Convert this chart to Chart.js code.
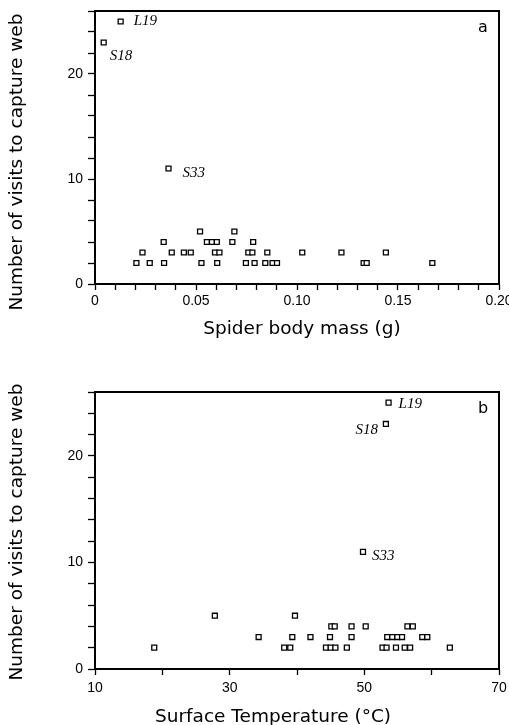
<!DOCTYPE html>
<html>
<head>
<meta charset="utf-8">
<script src="https://cdn.jsdelivr.net/npm/chart.js@4.4.1/dist/chart.umd.min.js"></script>
<style>
  body { margin: 0; background: #fff; }
  #boxA { position: absolute; left: 0; top: 0; width: 509px; height: 362px; }
  #boxB { position: absolute; left: 0; top: 362px; width: 509px; height: 363px; }
</style>
</head>
<body>
<div id="boxA"><canvas id="chartA"></canvas></div>
<div id="boxB"><canvas id="chartB"></canvas></div>
<script>
// Painel a - massa da aranha (g) x numero de visitas
const massaX = [0.0127, 0.0043, 0.0364,
    0.052, 0.069,
    0.034, 0.0554, 0.0579, 0.0603, 0.068, 0.0783,
    0.0235, 0.038, 0.044, 0.0474, 0.0594, 0.0616, 0.0759, 0.0779, 0.0853, 0.1026, 0.122, 0.144,
    0.0205, 0.0271, 0.0342, 0.0527, 0.0605, 0.0747, 0.079, 0.0843, 0.0879, 0.0901, 0.133, 0.1345, 0.167]
const massaVisitas = [25, 23, 11,
    5, 5,
    4, 4, 4, 4, 4, 4,
    3, 3, 3, 3, 3, 3, 3, 3, 3, 3, 3, 3,
    2, 2, 2, 2, 2, 2, 2, 2, 2, 2, 2, 2, 2]

// Painel b - temperatura da superficie (C) x numero de visitas
const tempX = [53.6, 53.2, 49.8,
    27.8, 39.7,
    45.1, 45.6, 48.1, 50.2, 56.4, 57.2,
    34.3, 39.3, 42.0, 44.9, 48.1, 53.4, 54.15, 54.9, 55.6, 58.6, 59.35,
    18.8, 38.1, 39.0, 44.3, 45.0, 45.7, 47.4, 52.7, 53.3, 54.7, 56.0, 56.8, 62.7]
const tempVisitas = [25, 23, 11,
    5, 5,
    4, 4, 4, 4, 4, 4,
    3, 3, 3, 3, 3, 3, 3, 3, 3, 3, 3,
    2, 2, 2, 2, 2, 2, 2, 2, 2, 2, 2, 2, 2]

// nomes das aranhas marcadas (indices 0, 1 e 2 das series)
const nomesAranhas = ['L19', 'S18', 'S33']

const tickLabelsMassa = [0, 0.05, 0.10, 0.15, 0.20]
const tickLabelsTemp = [10, 30, 50, 70]
const tickLabelsVisitas = [0, 10, 20]

function pontos(xs, ys) {
    return xs.map((x, i) => ({ x: x, y: ys[i] }))
}

// moldura, titulos e rotulos dos pontos
function pluginTextos(cfg) {
    return {
        id: 'textos',
        afterDraw(chart) {
            const c = chart.ctx
            const area = chart.chartArea
            const sx = chart.scales.x
            const sy = chart.scales.y
            c.save()
            c.strokeStyle = '#000'
            c.lineWidth = 2
            c.strokeRect(area.left, area.top, area.right - area.left, area.bottom - area.top)

            c.fillStyle = '#000'
            c.font = '18.5px "DejaVu Sans"'
            c.textAlign = 'center'
            c.textBaseline = 'middle'
            c.fillText(cfg.tituloX, cfg.tituloXPos[0], cfg.tituloXPos[1])

            c.save()
            c.translate(cfg.tituloYPos[0], cfg.tituloYPos[1])
            c.rotate(-Math.PI / 2)
            c.fillText('Number of visits to capture web', 0, 0)
            c.restore()

            c.font = '16px "DejaVu Sans"'
            c.fillText(cfg.letra, area.right - 16, area.top + 17)

            c.font = 'italic 15px "Liberation Serif"'
            nomesAranhas.forEach((nome, i) => {
                const px = sx.getPixelForValue(cfg.xs[i])
                const py = sy.getPixelForValue(cfg.ys[i])
                const d = cfg.desloc[i]
                c.textAlign = d[0] < 0 ? 'right' : 'left'
                c.fillText(nome, px + d[0], py + d[1])
            })
            c.restore()
        }
    }
}

function eixoY() {
    return {
        type: 'linear',
        min: 0,
        max: 26,
        afterFit: function (scale) {
            scale.width = 95
            scale.paddingTop = 0
            scale.paddingBottom = 0
        },
        ticks: {
            stepSize: 2,
            maxTicksLimit: 50,
            autoSkip: false,
            padding: 5,
            color: '#000',
            font: { family: 'Liberation Sans', size: 14 },
            callback: function (v) {
                return tickLabelsVisitas.includes(v) ? String(v) : ''
            }
        },
        grid: { drawOnChartArea: false, drawTicks: true, tickLength: 7, tickColor: '#000', tickWidth: 1.3 },
        border: { display: true, color: '#000', width: 2 }
    }
}

function dataset(xs, ys) {
    return {
        data: pontos(xs, ys),
        pointStyle: 'rect',
        pointRadius: 3.5,
        pointHoverRadius: 3.5,
        pointBorderWidth: 1.3,
        pointBorderColor: '#000',
        pointBackgroundColor: '#fff'
    }
}

// GRAFICO A
const ctxA = document.getElementById('chartA')
new Chart(ctxA, {
    type: 'scatter',
    data: { datasets: [dataset(massaX, massaVisitas)] },
    options: {
        responsive: true,
        maintainAspectRatio: false,
        animation: false,
        devicePixelRatio: 1,
        layout: { padding: { left: 0, right: 10, top: 11, bottom: 0 } },
        plugins: { legend: { display: false }, tooltip: { enabled: false } },
        scales: {
            x: {
                type: 'linear',
                min: 0,
                max: 0.2,
                afterFit: function (scale) {
                    scale.height = 78
                    scale.paddingLeft = 0
                    scale.paddingRight = 0
                },
                ticks: {
                    stepSize: 0.01,
                    maxTicksLimit: 50,
                    autoSkip: false,
                    maxRotation: 0,
                    padding: 3,
                    color: '#000',
                    font: { family: 'Liberation Sans', size: 14 },
                    callback: function (v) {
                        const k = tickLabelsMassa.findIndex(t => Math.abs(t - v) < 1e-6)
                        if (k < 0) return ''
                        return k === 0 ? '0' : tickLabelsMassa[k].toFixed(2)
                    }
                },
                grid: { drawOnChartArea: false, drawTicks: true, tickLength: 6, tickColor: '#000', tickWidth: 1.3 },
                border: { display: true, color: '#000', width: 2 }
            },
            y: eixoY()
        }
    },
    plugins: [pluginTextos({
        tituloX: 'Spider body mass (g)',
        tituloXPos: [302, 329],
        tituloYPos: [17, 162],
        letra: 'a',
        xs: massaX,
        ys: massaVisitas,
        desloc: [[13, 0], [6, 14], [14, 5]]
    })]
})

// GRAFICO B
const ctxB = document.getElementById('chartB')
new Chart(ctxB, {
    type: 'scatter',
    data: { datasets: [dataset(tempX, tempVisitas)] },
    options: {
        responsive: true,
        maintainAspectRatio: false,
        animation: false,
        devicePixelRatio: 1,
        layout: { padding: { left: 0, right: 10, top: 30, bottom: 0 } },
        plugins: { legend: { display: false }, tooltip: { enabled: false } },
        scales: {
            x: {
                type: 'linear',
                min: 10,
                max: 70,
                afterFit: function (scale) {
                    scale.height = 56
                    scale.paddingLeft = 0
                    scale.paddingRight = 0
                },
                ticks: {
                    stepSize: 10,
                    maxTicksLimit: 50,
                    autoSkip: false,
                    maxRotation: 0,
                    padding: 5,
                    color: '#000',
                    font: { family: 'Liberation Sans', size: 14 },
                    callback: function (v) {
                        return tickLabelsTemp.includes(v) ? String(v) : ''
                    }
                },
                grid: { drawOnChartArea: false, drawTicks: true, tickLength: 6, tickColor: '#000', tickWidth: 1.3 },
                border: { display: true, color: '#000', width: 2 }
            },
            y: eixoY()
        }
    },
    plugins: [pluginTextos({
        tituloX: 'Surface Temperature (°C)',
        tituloXPos: [273, 355],
        tituloYPos: [17, 170],
        letra: 'b',
        xs: tempX,
        ys: tempVisitas,
        desloc: [[10, 1], [-8, 6], [9, 4]]
    })]
})
</script>
</body>
</html>
